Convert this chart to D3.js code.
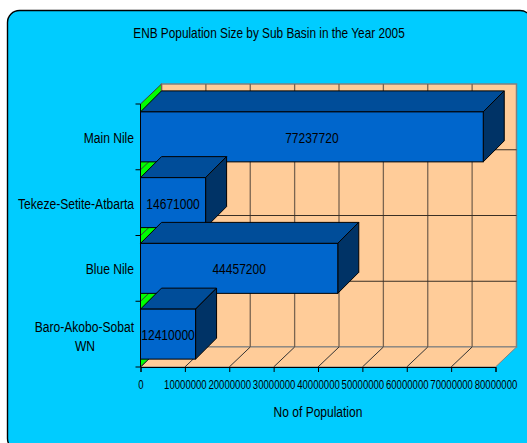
<!DOCTYPE html>
<html><head><meta charset="utf-8">
<script src="https://cdn.jsdelivr.net/npm/d3@7/dist/d3.min.js"></script>
<style>html,body{margin:0;padding:0;background:#fff;overflow:hidden}svg{display:block}
text{font-family:"Liberation Sans",Arial,sans-serif;fill:#000}</style>
</head><body><svg id="c" width="527" height="443"></svg>
<script>
const categories=["Main Nile","Tekeze-Setite-Atbarta","Blue Nile","Baro-Akobo-Sobat WN"];
const populations=[77237720,14671000,44457200,12410000];
const xTicks=[0,10000000,20000000,30000000,40000000,50000000,60000000,70000000,80000000];
const chartTitle="ENB Population Size by Sub Basin in the Year 2005";
const xTitle="No of Population";

const svg=d3.select("#c");
const x0=140.5,x1=495.5,yTop=104,yBot=367,dx=21,dy=-20;
const x=d3.scaleLinear().domain([0,80000000]).range([x0,x1]);
const y=d3.scaleBand().domain(categories).range([yTop,yBot]).paddingInner(0.24).paddingOuter(0.12);
const yb=d3.scaleBand().domain(categories).range([yTop,yBot]);
const pts=a=>a.map(p=>p.join(",")).join(" ");
// condensed text: horizontally squeezed Liberation Sans
const label=(px,py,str,size,anchor,sx)=>svg.append("text")
  .attr("transform",`translate(${px},${py}) scale(${sx},1)`)
  .attr("text-anchor",anchor).attr("font-size",size).text(str);

svg.append("rect").attr("x",7.5).attr("y",10.5).attr("width",524.5).attr("height",440).attr("rx",12)
  .attr("fill","#00ccff").attr("stroke","#000").attr("stroke-width",1.4);

label(269,38,chartTitle,14,"middle",0.845);

// walls
svg.append("polygon").attr("points",pts([[x0+dx,yTop+dy],[x1+dx,yTop+dy],[x1+dx,yBot+dy],[x0+dx,yBot+dy]]))
  .attr("fill","#ffcc99").attr("stroke","#808080").attr("stroke-width",1.5);
svg.append("polygon").attr("points",pts([[x0,yBot],[x1,yBot],[x1+dx,yBot+dy],[x0+dx,yBot+dy]]))
  .attr("fill","#ffcc99").attr("stroke","#808080").attr("stroke-width",1);
svg.append("polygon").attr("points",pts([[x0,yTop],[x0+dx,yTop+dy],[x0+dx,yBot+dy],[x0,yBot]]))
  .attr("fill","#00ff00").attr("stroke","#404040").attr("stroke-width",1);

// gridlines
xTicks.slice(0,-1).forEach(t=>{
  svg.append("line").attr("x1",x(t)+dx).attr("x2",x(t)+dx).attr("y1",yTop+dy).attr("y2",yBot+dy)
    .attr("stroke","#7a6450").attr("stroke-width",1.3);
  svg.append("line").attr("x1",x(t)).attr("x2",x(t)+dx).attr("y1",yBot).attr("y2",yBot+dy)
    .attr("stroke","#333").attr("stroke-width",1);
});
categories.slice(0,-1).forEach(c=>{
  const v=yb(c)+yb.step();
  svg.append("line").attr("x1",x0+dx).attr("x2",x1+dx).attr("y1",v+dy).attr("y2",v+dy)
    .attr("stroke","#3a2f25").attr("stroke-width",1);
  svg.append("line").attr("x1",x0).attr("x2",x0+dx).attr("y1",v).attr("y2",v+dy)
    .attr("stroke","#404040").attr("stroke-width",1);
});

// axes
const xAxis=d3.axisBottom(x).tickValues(xTicks).tickFormat(d3.format("d")).tickSize(5).tickPadding(7);
const gx=svg.append("g").attr("transform",`translate(0,${yBot})`).call(xAxis);
gx.select(".domain").attr("stroke","#000");
gx.selectAll(".tick line").attr("stroke","#000");
gx.selectAll("text").attr("font-size",13.5).attr("font-family",null).attr("transform","scale(0.71,1)").style("fill","#000");
const yAxisTicks=[yTop,...categories.map(c=>yb(c)+yb.step())];
yAxisTicks.forEach(v=>svg.append("line").attr("x1",x0-5).attr("x2",x0).attr("y1",v).attr("y2",v).attr("stroke","#000"));
svg.append("line").attr("x1",x0).attr("x2",x0).attr("y1",yTop).attr("y2",yBot).attr("stroke","#000");

// bars, back to front
const bars=svg.selectAll("g.bar").data(categories.map((c,i)=>({c,v:populations[i]}))).join("g").attr("class","bar");
const bdy=-21;
bars.append("polygon").attr("points",d=>{const t=y(d.c),r=x(d.v);return pts([[x0,t],[r,t],[r+dx,t+bdy],[x0+dx,t+bdy]])})
  .attr("fill","#004d99").attr("stroke","#000").attr("stroke-linejoin","round");
bars.append("polygon").attr("points",d=>{const t=y(d.c),b=t+y.bandwidth(),r=x(d.v);return pts([[r,t],[r+dx,t+bdy],[r+dx,b+bdy],[r,b]])})
  .attr("fill","#003366").attr("stroke","#000").attr("stroke-linejoin","round");
bars.append("rect").attr("x",x0).attr("y",d=>y(d.c)).attr("width",d=>x(d.v)-x0).attr("height",y.bandwidth())
  .attr("fill","#0066cc").attr("stroke","#000");
bars.each(d=>label((x0+x(d.v))/2,y(d.c)+y.bandwidth()/2+6,d.v,15.5,"middle",0.775));

// category labels
categories.forEach(c=>{
  const cy=yb(c)+yb.step()/2;
  if(c==="Baro-Akobo-Sobat WN"){
    label(134,332,"Baro-Akobo-Sobat",15.5,"end",0.78);
    label(85,351,"WN",15.5,"middle",0.78);
  } else label(134,cy+6,c,15.5,"end",0.78);
});

label(318,417,xTitle,15.5,"middle",0.775);
</script></body></html>
